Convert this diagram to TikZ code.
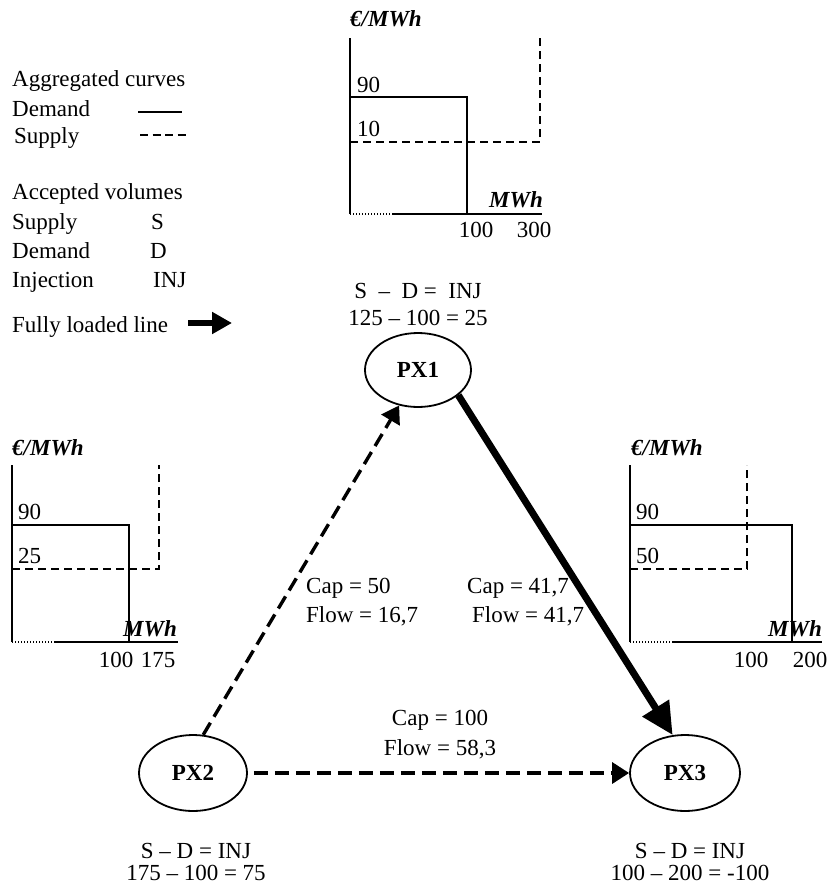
\documentclass[tikz,border=0pt]{standalone}
\usepackage{fontspec}
\setmainfont{Liberation Serif}
\usetikzlibrary{arrows.meta,shapes.geometric}
\begin{document}
\begin{tikzpicture}[x=1pt,y=-1pt,
  font=\fontsize{23}{27}\selectfont,
  txt/.style={inner sep=0pt, anchor=base west},
  ctxt/.style={inner sep=0pt, anchor=base},
  rtxt/.style={inner sep=0pt, anchor=base east},
  axisline/.style={line width=2.6pt},
  demline/.style={line width=2.4pt},
  supline/.style={line width=2pt, dash pattern=on 8pt off 5pt},
  dotline/.style={line width=2pt, dash pattern=on 1.2pt off 1.8pt},
  px/.style={ellipse, draw, line width=1.8pt, inner sep=0pt, font=\fontsize{23}{27}\selectfont\bfseries},
  flowarrow/.style={line width=3.4pt, dash pattern=on 14pt off 7pt, -{Triangle[length=17pt,width=21pt]}},
  fullarrow/.style={line width=7pt, -{Triangle[length=32pt,width=30pt]}},
  unitlabel/.style={inner sep=0pt, anchor=base west, font=\fontsize{23}{27}\selectfont\bfseries\itshape},
  mwhlabel/.style={inner sep=0pt, anchor=base east, font=\fontsize{23}{27}\selectfont\bfseries\itshape}
]
\useasboundingbox (0,0) rectangle (833,886);

% ---------- legend ----------
\node[txt] (lgA) at (12,86) {Aggregated curves};
\node[txt] (lgB) at (12,116) {Demand};
\draw[line width=1.6pt] (138,112) -- (182,112);
\node[txt] (lgC) at (14,143) {Supply};
\draw[line width=2.2pt, dash pattern=on 8pt off 4.5pt] (140,135) -- (187,135);
\node[txt] (lgD) at (12,199) {Accepted volumes};
\node[txt] (lgE) at (12,229) {Supply};
\node[txt] (lgEs) at (151,229) {S};
\node[txt] (lgF) at (12,258) {Demand};
\node[txt] (lgFs) at (150,258) {D};
\node[txt] (lgG) at (12,287) {Injection};
\node[txt] (lgGs) at (153,287) {INJ};
\node[txt] (lgH) at (12,332) {Fully loaded line};
\coordinate (lgarrS) at (188,323);
\coordinate (lgarrE) at (232,323);
\draw[line width=6pt, -{Triangle[length=20pt,width=21pt]}] (lgarrS) -- (lgarrE);

% ---------- top chart (PX1) ----------
\node[unitlabel] (u1) at (350,27) {€/MWh};
\draw[axisline] (350,38) -- (350,214);
\draw[demline] (350,97) -- (467,97) -- (467,214);
\draw[supline] (350,142) -- (540,142) -- (540,38);
\draw[dotline] (350,214) -- (393,214);
\draw[axisline] (393,214) -- (542,214);
\node[txt] (t90) at (357,92) {90};
\node[txt] (t10) at (357,136) {10};
\node[mwhlabel] (m1) at (543,207) {MWh};
\node[ctxt] (q1a) at (476,237) {100};
\node[ctxt] (q1b) at (534,237) {300};

% ---------- left chart (PX2) ----------
\node[unitlabel] (u2) at (12,455) {€/MWh};
\draw[axisline] (12,465) -- (12,642);
\draw[demline] (12,525) -- (129,525) -- (129,642);
\draw[supline] (12,569) -- (159,569) -- (159,465);
\draw[dotline] (12,642) -- (55,642);
\draw[axisline] (55,642) -- (178,642);
\node[txt] (l90) at (18,519) {90};
\node[txt] (l25) at (18,563) {25};
\node[mwhlabel] (m2) at (177,636) {MWh};
\node[ctxt] (q2a) at (116,667) {100};
\node[ctxt] (q2b) at (158,667) {175};

% ---------- right chart (PX3) ----------
\node[unitlabel] (u3) at (631,455) {€/MWh};
\draw[axisline] (630,465) -- (630,642);
\draw[demline] (630,525) -- (792,525) -- (792,642);
\draw[supline] (630,569) -- (747,569) -- (747,465);
\draw[dotline] (630,642) -- (673,642);
\draw[axisline] (673,642) -- (822,642);
\node[txt] (r90) at (636,519) {90};
\node[txt] (r50) at (636,563) {50};
\node[mwhlabel] (m3) at (822,636) {MWh};
\node[ctxt] (q3a) at (751,667) {100};
\node[ctxt] (q3b) at (810,667) {200};

% ---------- nodes ----------
\node[px, minimum width=106pt, minimum height=74pt] (px1) at (418,370) {PX1};
\node[px, minimum width=108pt, minimum height=76pt] (px2) at (193,773) {PX2};
\node[px, minimum width=110pt, minimum height=76pt] (px3) at (685,773) {PX3};

\node[ctxt] (e1a) at (418,298) {S\ \ –\ \ D =\ \ INJ};
\node[ctxt] (e1b) at (418,325) {125 – 100 = 25};
\node[ctxt] (e2a) at (196,858) {S – D = INJ};
\node[ctxt] (e2b) at (196,880) {175 – 100 = 75};
\node[ctxt] (e3a) at (690,858) {S – D = INJ};
\node[ctxt] (e3b) at (690,880) {100 – 200 = -100};

% ---------- connectors ----------
\draw[flowarrow] (px2.75) -- (px1.242);
\draw[fullarrow] (px1.-32) -- (px3.108);
\draw[flowarrow, shorten <=6pt] (px2.east) -- (px3.west);

\node[txt] (c1a) at (306,593) {Cap = 50};
\node[txt] (c1b) at (306,622) {Flow = 16,7};
\node[txt] (c2a) at (467,593) {Cap = 41,7};
\node[txt] (c2b) at (472,622) {Flow = 41,7};
\node[ctxt] (c3a) at (440,725) {Cap = 100};
\node[ctxt] (c3b) at (440,755) {Flow = 58,3};
\end{tikzpicture}
\end{document}
